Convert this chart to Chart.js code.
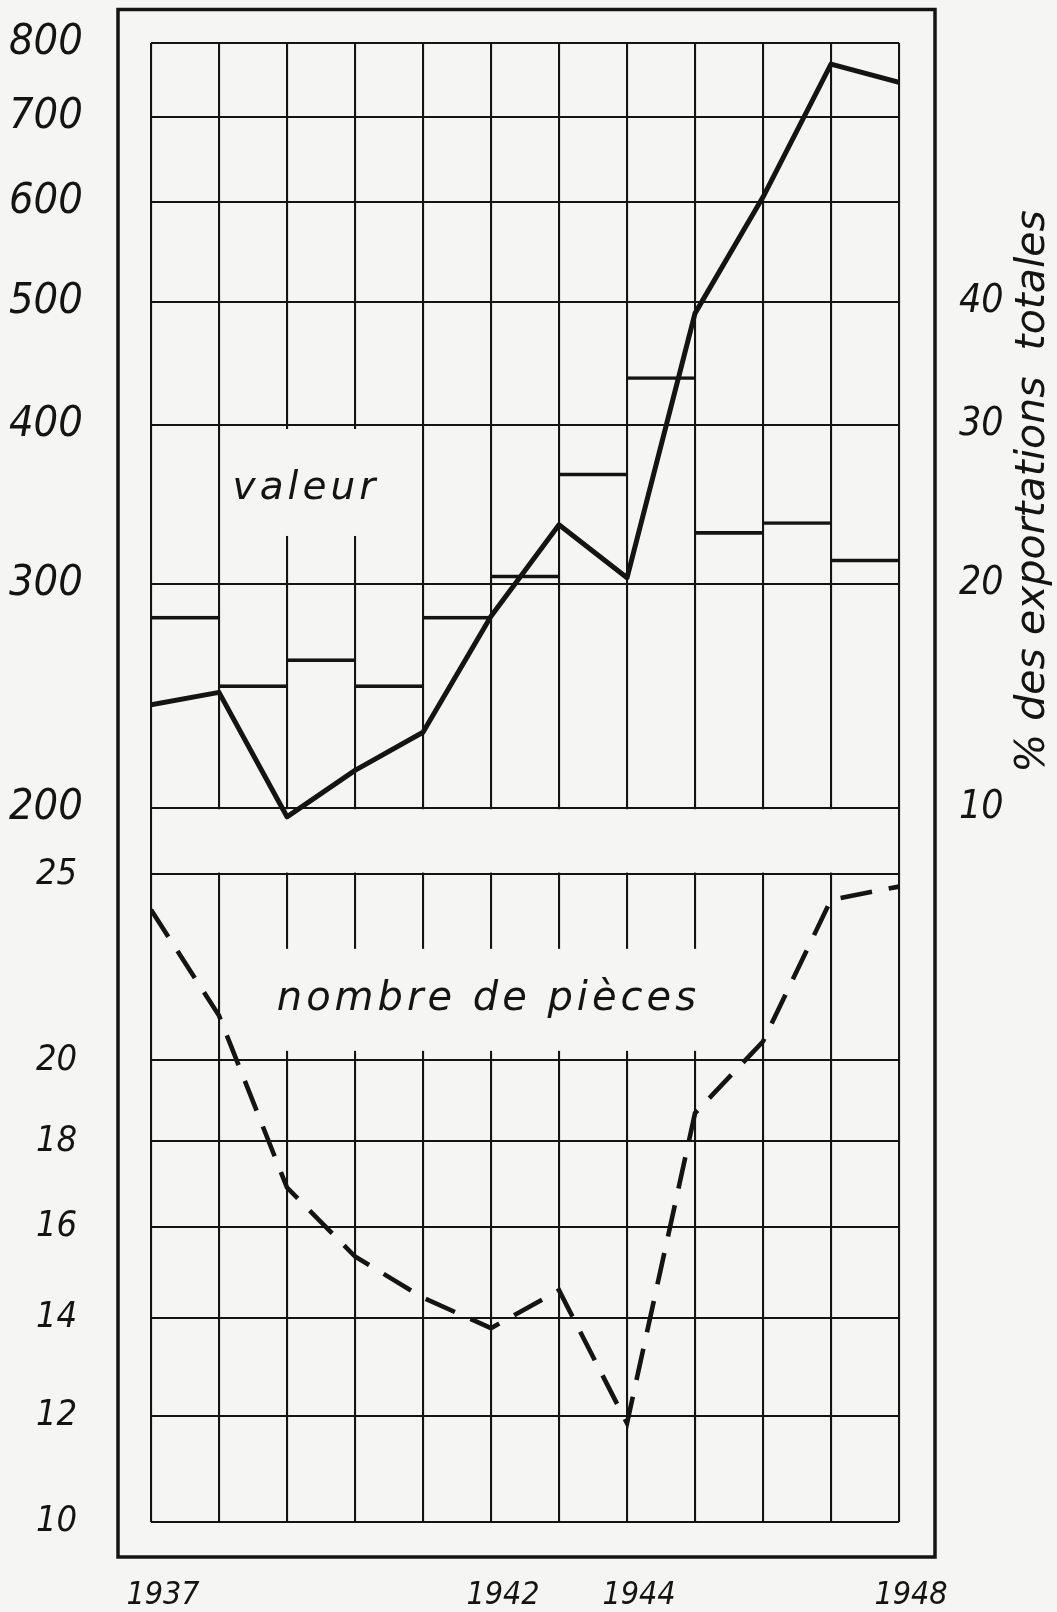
<!DOCTYPE html>
<html>
<head>
<meta charset="utf-8">
<script src="https://cdn.jsdelivr.net/npm/chart.js@4.4.1/dist/chart.umd.min.js"></script>
<style>
  html, body { margin: 0; padding: 0; background: #f5f5f3; }
  #wrap { width: 1057px; height: 1612px; }
  canvas { display: block; }
</style>
</head>
<body>
<div id="wrap"><canvas id="c" width="1057" height="1612"></canvas></div>
<script>
// ---------------- data ----------------
const years = [1937, 1938, 1939, 1940, 1941, 1942, 1943, 1944, 1945, 1946, 1947, 1948];
// valeur (left upper scale, logarithmic)
const valeur = [241, 246.5, 196.7, 214, 229.3, 283, 334, 303.4, 490, 605, 770, 745];
// nombre de pièces (left lower scale)
const pieces = [24.0, 21.15, 16.9, 15.33, 14.43, 13.78, 14.59, 11.85, 18.68, 20.48, 24.28, 24.65];
// % des exportations totales, one step per yearly interval
const shareYears = [1937, 1938, 1939, 1940, 1941, 1942, 1943, 1944, 1945, 1946, 1947];
const shareOfExports = [18.3, 15.0, 16.2, 15.0, 18.3, 20.5, 26.7, 33.7, 23.0, 23.6, 21.4];

// tick labels
const valueTicks = [200, 300, 400, 500, 600, 700, 800];
const pieceTicks = [10, 12, 14, 16, 18, 20, 25];
const shareTicks = [10, 20, 30, 40];
const yearLabels = [1937, 1942, 1944, 1948];

// texts
const LABEL_VALEUR = 'valeur';
const LABEL_PIECES = 'nombre de pièces';
const TITLE_RIGHT = '% des exportations  totales';

// ---------------- scale geometry ----------------
const VAL_RANGE = [200, 800];   // upper panel
const PCS_RANGE = [10, 25];     // lower panel
const TOP_SHARE = 0.517;        // fraction of plot height used by the upper panel
const BOTTOM_SHARE = 0.438;     // fraction of plot height used by the lower panel
const SHARE_OFFSET = 100, SHARE_FACTOR = 10; // right axis: 10 % on the 200 line, 20 % on 300 ...

const valMinExt = VAL_RANGE[1] / Math.pow(VAL_RANGE[1] / VAL_RANGE[0], 1 / TOP_SHARE);
const pcsMaxExt = Math.pow(Math.sqrt(PCS_RANGE[0]) +
  (Math.sqrt(PCS_RANGE[1]) - Math.sqrt(PCS_RANGE[0])) / BOTTOM_SHARE, 2);

// ---------------- styles ----------------
const INK = '#141414';
const PAPER = '#f5f5f3';
const FONT = "'DejaVu Sans Condensed', 'DejaVu Sans', sans-serif";
const TEXT_FONT = "'DejaVu Sans', sans-serif";

// ---------------- custom scales ----------------
class SqrtScale extends Chart.LinearScale {
  getPixelForValue(v) {
    if (v === null || v === undefined || isNaN(v)) return NaN;
    const a = Math.sqrt(this.min), b = Math.sqrt(this.max);
    return this.getPixelForDecimal((Math.sqrt(Math.max(0, v)) - a) / (b - a));
  }
  getValueForPixel(px) {
    const a = Math.sqrt(this.min), b = Math.sqrt(this.max);
    const s = a + this.getDecimalForPixel(px) * (b - a);
    return s * s;
  }
}
SqrtScale.id = 'sqrt';
SqrtScale.defaults = {};

class ShareScale extends Chart.LinearScale {
  _f(p) { return Math.log10(SHARE_OFFSET + SHARE_FACTOR * p); }
  getPixelForValue(p) {
    if (p === null || p === undefined || isNaN(p)) return NaN;
    const a = this._f(this.min), b = this._f(this.max);
    return this.getPixelForDecimal((this._f(p) - a) / (b - a));
  }
  getValueForPixel(px) {
    const a = this._f(this.min), b = this._f(this.max);
    const l = a + this.getDecimalForPixel(px) * (b - a);
    return (Math.pow(10, l) - SHARE_OFFSET) / SHARE_FACTOR;
  }
}
ShareScale.id = 'share';
ShareScale.defaults = {};
Chart.register(SqrtScale, ShareScale);

// ---------------- annotation texts in the plot ----------------
const panelLabels = [
  { text: LABEL_VALEUR, x: 1938.2, y: 350, axis: 'yVal', from: 1938, to: 1941, above: 70, below: 37, size: 39, spacing: 4 },
  { text: LABEL_PIECES, x: 1938.85, y: 21.3, axis: 'yPcs', from: 1938, to: 1946, above: 61, below: 41, size: 40, spacing: 4 }
];

const drawingPlugin = {
  id: 'drawing',
  beforeDatasetsDraw(chart) {
    const { ctx, chartArea: ca, scales } = chart;
    const xs = scales.x;
    ctx.save();
    ctx.fillStyle = PAPER;
    // blank band between the two panels
    const gTop = scales.yVal.getPixelForValue(VAL_RANGE[0]) + 1.6;
    const gBot = scales.yPcs.getPixelForValue(PCS_RANGE[1]) - 1.6;
    ctx.fillRect(ca.left + 1.6, gTop, ca.width - 3.2, gBot - gTop);
    // label boxes and label texts
    for (const lab of panelLabels) {
      const by = scales[lab.axis].getPixelForValue(lab.y);
      const x0 = xs.getPixelForValue(lab.from) + 4, x1 = xs.getPixelForValue(lab.to) - 4;
      ctx.fillStyle = PAPER;
      ctx.fillRect(x0, by - lab.above, x1 - x0, lab.above + lab.below);
      ctx.fillStyle = INK;
      ctx.font = `italic ${lab.size}px ${TEXT_FONT}`;
      ctx.textAlign = 'left';
      ctx.textBaseline = 'alphabetic';
      try { ctx.letterSpacing = lab.spacing + 'px'; } catch (e) {}
      ctx.fillText(lab.text, xs.getPixelForValue(lab.x), by);
      try { ctx.letterSpacing = '0px'; } catch (e) {}
    }
    ctx.restore();
  },
  afterDraw(chart) {
    const { ctx, chartArea: ca, scales } = chart;
    ctx.save();
    // outer frame
    ctx.strokeStyle = INK;
    ctx.lineWidth = 3.5;
    ctx.strokeRect(ca.left - 33, ca.top - 33.5, ca.width + 33 + 36, ca.height + 33.5 + 35);
    // right axis title, reading upwards
    ctx.fillStyle = INK;
    ctx.font = `italic 41px ${TEXT_FONT}`;
    ctx.textAlign = 'left';
    ctx.textBaseline = 'alphabetic';
    ctx.translate(ca.right + 145, scales.yShare.getPixelForValue(shareTicks[0]) - 35);
    ctx.rotate(-Math.PI / 2);
    ctx.fillText(TITLE_RIGHT, 0, 0);
    ctx.restore();
  }
};

const tickFont = (size) => ({ family: FONT, size: size, style: 'italic', weight: 'normal' });
const gridStyle = { color: INK, lineWidth: 2.1, drawTicks: false, offset: false };
const fixSize = (prop, size) => (s) => {
  s[prop] = size;
  s.paddingTop = 0; s.paddingBottom = 0; s.paddingLeft = 0; s.paddingRight = 0;
};

new Chart(document.getElementById('c'), {
  type: 'line',
  data: {
    datasets: [
      {
        label: LABEL_VALEUR,
        data: years.map((x, i) => ({ x: x, y: valeur[i] })),
        yAxisID: 'yVal',
        borderColor: INK, borderWidth: 5, pointRadius: 0, tension: 0, fill: false,
        borderJoinStyle: 'round'
      },
      {
        label: LABEL_PIECES,
        data: years.map((x, i) => ({ x: x, y: pieces[i] })),
        yAxisID: 'yPcs',
        borderColor: INK, borderWidth: 4.6, borderDash: [32, 17], pointRadius: 0, tension: 0, fill: false
      },
      {
        type: 'bar',
        label: TITLE_RIGHT,
        data: shareYears.map((x, i) => ({ x: x + 0.5, y: shareOfExports[i] })),
        yAxisID: 'yShare',
        backgroundColor: 'rgba(0,0,0,0)',
        borderColor: INK,
        borderWidth: { top: 3, right: 0, bottom: 0, left: 0 },
        borderSkipped: false,
        barPercentage: 1, categoryPercentage: 1, grouped: false
      }
    ]
  },
  options: {
    responsive: false,
    animation: false,
    devicePixelRatio: 1,
    events: [],
    layout: { padding: { top: 43, left: 0, right: 0, bottom: 0 } },
    plugins: { legend: { display: false }, tooltip: { enabled: false } },
    scales: {
      x: {
        type: 'linear', position: 'bottom', offset: false,
        min: years[0], max: years[years.length - 1], bounds: 'data',
        afterBuildTicks: (s) => { s.ticks = years.map(v => ({ value: v })); },
        afterFit: fixSize('height', 90),
        grid: gridStyle, border: { display: false },
        ticks: {
          autoSkip: false, maxRotation: 0, minRotation: 0, padding: 54, labelOffset: 12,
          color: INK, font: tickFont(32),
          callback: (v) => yearLabels.includes(v) ? String(v) : ''
        }
      },
      yVal: {
        type: 'logarithmic', position: 'left', weight: 0,
        min: valMinExt, max: VAL_RANGE[1], bounds: 'data',
        afterBuildTicks: (s) => { s.ticks = valueTicks.map(v => ({ value: v })); },
        afterFit: fixSize('width', 71),
        grid: gridStyle, border: { display: false },
        ticks: { autoSkip: false, mirror: true, crossAlign: 'near', padding: -142, color: INK, font: tickFont(43), callback: (v) => String(v) }
      },
      yPcs: {
        type: 'sqrt', position: 'left', weight: 1,
        min: PCS_RANGE[0], max: pcsMaxExt, bounds: 'data',
        afterBuildTicks: (s) => { s.ticks = pieceTicks.map(v => ({ value: v })); },
        afterFit: fixSize('width', 80),
        grid: gridStyle, border: { display: false },
        ticks: { autoSkip: false, mirror: true, crossAlign: 'near', padding: -44, color: INK, font: tickFont(36), callback: (v) => String(v) }
      },
      yShare: {
        type: 'share', position: 'right',
        min: (valMinExt - SHARE_OFFSET) / SHARE_FACTOR, max: (VAL_RANGE[1] - SHARE_OFFSET) / SHARE_FACTOR,
        bounds: 'data',
        afterBuildTicks: (s) => { s.ticks = shareTicks.map(v => ({ value: v })); },
        afterFit: fixSize('width', 158),
        grid: { display: false }, border: { display: false },
        ticks: { autoSkip: false, padding: 52, color: INK, font: tickFont(39), callback: (v) => String(v) }
      }
    }
  },
  plugins: [drawingPlugin]
});
</script>
</body>
</html>
